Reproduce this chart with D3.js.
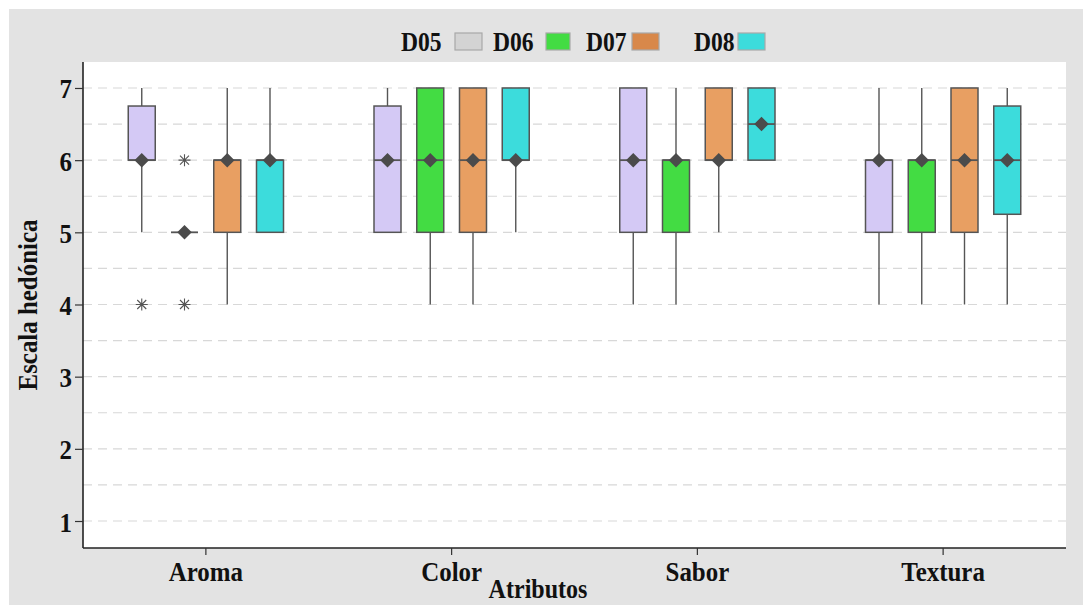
<!DOCTYPE html>
<html>
<head>
<meta charset="utf-8">
<script src="https://cdn.jsdelivr.net/npm/d3@7"></script>
<style>
  html, body { margin: 0; padding: 0; background: #ffffff; }
  svg { display: block; }
  text { font-family: "Liberation Serif", "Times New Roman", serif; font-weight: bold; fill: #111; }
</style>
</head>
<body>
<svg id="chart" width="1083" height="605"></svg>
<script>
// Attributes on the x axis and the four samples compared within each
const categories = ["Aroma", "Color", "Sabor", "Textura"];
const samples = ["D05", "D06", "D07", "D08"];
const yTicks = [1, 2, 3, 4, 5, 6, 7];

// Five-number summaries per sample, ordered as categories: [lower whisker, Q1, median, Q3, upper whisker]
const statsD05 = [[5, 6, 6, 6.75, 7], [5, 5, 6, 6.75, 7], [4, 5, 6, 7, 7], [4, 5, 6, 6, 7]];
const statsD06 = [[5, 5, 5, 5, 5], [4, 5, 6, 7, 7], [4, 5, 6, 6, 7], [4, 5, 6, 6, 7]];
const statsD07 = [[4, 5, 6, 6, 7], [4, 5, 6, 7, 7], [5, 6, 6, 7, 7], [4, 5, 6, 7, 7]];
const statsD08 = [[5, 5, 6, 6, 7], [5, 6, 6, 7, 7], [6, 6, 6.5, 7, 7], [4, 5.25, 6, 6.75, 7]];

// Outlying observations, ordered as categories
const outD05 = [[4], [], [], []];
const outD06 = [[6, 4], [], [], []];
const outD07 = [[], [], [], []];
const outD08 = [[], [], [], []];

const boxFill = ["#d4c9f5", "#43dc43", "#e89f62", "#3cdcdc"];
const legendFill = ["#d3d3d3", "#43dc43", "#d8884a", "#3cdcdc"];

const statsBySample = [statsD05, statsD06, statsD07, statsD08];
const outBySample = [outD05, outD06, outD07, outD08];

const svg = d3.select("#chart");
const W = 1083, H = 605;
const panel = { left: 83, top: 62, right: 1066, bottom: 548 };
const FS = 28;        // label font size
const SX = 0.89;      // horizontal condensing of the label face

// outer background
svg.append("rect").attr("x", 9).attr("y", 9).attr("width", W - 9).attr("height", H - 9).attr("fill", "#e3e3e3");
svg.append("rect").attr("x", panel.left).attr("y", panel.top)
  .attr("width", panel.right - panel.left).attr("height", panel.bottom - panel.top).attr("fill", "#ffffff");

const x = d3.scaleBand().domain(categories).range([panel.left, panel.right]).padding(0);
const xInner = d3.scaleBand().domain(samples).range([-85.5, 85.5]).padding(0);
const boxW = 27;
const y = d3.scaleLinear().domain([0.626, 7.36]).range([panel.bottom, panel.top]);

// dashed grid, major and half-step lines
const gridVals = d3.range(1, 7.01, 0.5);
svg.append("g").selectAll("line").data(gridVals).join("line")
  .attr("x1", panel.left).attr("x2", panel.right)
  .attr("y1", d => y(d)).attr("y2", d => y(d))
  .attr("stroke", "#d8d8d8").attr("stroke-width", 1.2).attr("stroke-dasharray", "9,6");

// condensed text placed at (px, py)
function label(parent, px, py, str, anchor, rot, size) {
  return parent.append("text")
    .attr("transform", `translate(${px},${py})${rot ? ` rotate(${rot})` : ""} scale(${SX},1)`)
    .attr("text-anchor", anchor || "start")
    .attr("font-size", size || FS)
    .text(str);
}

// axes
const yAxis = d3.axisLeft(y).tickValues(yTicks).tickFormat(d3.format("d")).tickSize(8).tickPadding(4);
const gy = svg.append("g").attr("transform", `translate(${panel.left},0)`).call(yAxis);
gy.select(".domain").attr("d", `M0,${panel.top}V${panel.bottom}`).attr("stroke", "#222").attr("stroke-width", 1.6);
gy.selectAll(".tick line").attr("stroke", "#333").attr("stroke-width", 1.2);
gy.selectAll(".tick text").remove();
gy.selectAll(".tick").each(function (d) {
  label(d3.select(this), -11, 10, d3.format("d")(d), "end");
});

const xAxis = d3.axisBottom(x).tickSize(7);
const gx = svg.append("g").attr("transform", `translate(0,${panel.bottom})`).call(xAxis);
gx.select(".domain").attr("d", `M${panel.left},0H${panel.right}`).attr("stroke", "#222").attr("stroke-width", 1.6);
gx.selectAll(".tick line").attr("stroke", "#333").attr("stroke-width", 1.2);
gx.selectAll(".tick text").remove();
gx.selectAll(".tick").each(function (d) {
  label(d3.select(this), 0, 33, d, "middle");
});

// axis titles
label(svg, 538, 598, "Atributos", "middle", 0, 27);
label(svg, 37, 305, "Escala hedónica", "middle", -90);

// boxes
const boxes = [];
samples.forEach((s, si) => {
  categories.forEach((c, ci) => {
    boxes.push({ s, si, c, st: statsBySample[si][ci], out: outBySample[si][ci] });
  });
});
const stroke = "#555555";
const gBox = svg.append("g");
boxes.forEach(b => {
  const cx = x(b.c) + x.bandwidth() / 2 + xInner(b.s) + xInner.bandwidth() / 2;
  const [lo, q1, med, q3, hi] = b.st;
  const g = gBox.append("g");
  // whiskers
  if (hi > q3) g.append("line").attr("x1", cx).attr("x2", cx).attr("y1", y(q3)).attr("y2", y(hi)).attr("stroke", stroke).attr("stroke-width", 1.4);
  if (lo < q1) g.append("line").attr("x1", cx).attr("x2", cx).attr("y1", y(q1)).attr("y2", y(lo)).attr("stroke", stroke).attr("stroke-width", 1.4);
  // box
  g.append("rect").attr("x", cx - boxW / 2).attr("y", y(q3)).attr("width", boxW)
    .attr("height", Math.max(0, y(q1) - y(q3))).attr("fill", boxFill[b.si])
    .attr("stroke", stroke).attr("stroke-width", 1.5);
  // median line
  g.append("line").attr("x1", cx - boxW / 2).attr("x2", cx + boxW / 2).attr("y1", y(med)).attr("y2", y(med))
    .attr("stroke", stroke).attr("stroke-width", 1.8);
  // median marker
  g.append("path").attr("d", d3.symbol(d3.symbolDiamond2, 135)())
    .attr("transform", `translate(${cx},${y(med)})`)
    .attr("fill", "#4b4b4b");
  // outliers as asterisks
  b.out.forEach(v => {
    const r = 6;
    const p = `M${-r},0H${r}M0,${-r}V${r}M${-r * 0.75},${-r * 0.75}L${r * 0.75},${r * 0.75}M${-r * 0.75},${r * 0.75}L${r * 0.75},${-r * 0.75}`;
    g.append("path").attr("d", p).attr("transform", `translate(${cx},${y(v)})`)
      .attr("stroke", "#555").attr("stroke-width", 1.1).attr("fill", "none");
  });
});

// legend along the top
const legendItems = [
  { label: "D05", tx: 401, sx: 455, sw: 27 },
  { label: "D06", tx: 493, sx: 546, sw: 24 },
  { label: "D07", tx: 586, sx: 632, sw: 27 },
  { label: "D08", tx: 694, sx: 738, sw: 27 }
];
const gl = svg.append("g");
legendItems.forEach((it, i) => {
  gl.append("text")
    .attr("transform", `translate(${it.tx},51) scale(${SX},1)`)
    .attr("font-size", 26.5).text(it.label);
  gl.append("rect").attr("x", it.sx).attr("y", 33).attr("width", it.sw).attr("height", 17)
    .attr("fill", legendFill[i]).attr("stroke", "#a8a8a8").attr("stroke-width", 1.2);
});
</script>
</body>
</html>
